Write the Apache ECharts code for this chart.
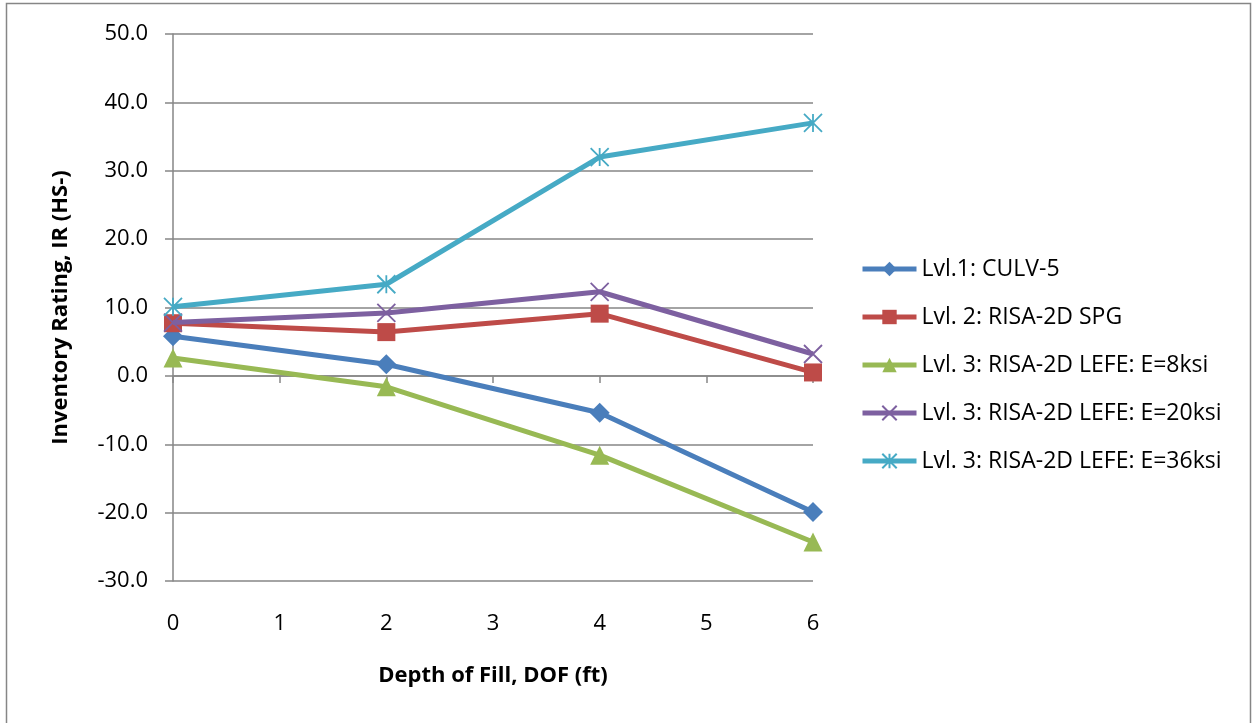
<!DOCTYPE html>
<html>
<head>
<meta charset="utf-8">
<script src="https://cdn.jsdelivr.net/npm/echarts@6/dist/echarts.min.js"></script>
<style>
html,body{margin:0;padding:0;background:#fff;}
#chart{width:1252px;height:723px;}
</style>
</head>
<body>
<div id="chart"></div>
<script>
const depth = [0, 2, 4, 6];
const seriesNames = [
  'Lvl.1: CULV-5',
  'Lvl. 2: RISA-2D SPG',
  'Lvl. 3: RISA-2D LEFE: E=8ksi',
  'Lvl. 3: RISA-2D LEFE: E=20ksi',
  'Lvl. 3: RISA-2D LEFE: E=36ksi'
];
const culv5 = [5.8, 1.7, -5.4, -19.9];
const spg = [7.7, 6.4, 9.1, 0.5];
const lefe8 = [2.6, -1.6, -11.6, -24.3];
const lefe20 = [7.8, 9.2, 12.3, 3.2];
const lefe36 = [10.1, 13.4, 32.0, 37.0];
const yTicks = [-30, -20, -10, 0, 10, 20, 30, 40, 50];
const xTicks = [0, 1, 2, 3, 4, 5, 6];

const colors = ['#4A7EBB', '#BE4B48', '#98B954', '#7D60A0', '#46AAC5'];
const values = [culv5, spg, lefe8, lefe20, lefe36];
const symbols = [
  'diamond',
  'rect',
  'triangle',
  'path://M0,0L10,10M0,10L10,0',
  'path://M0,0L10,10M0,10L10,0M5,0L5,10'
];
const sizes = [20, 18, 19, 18, 18];
const FONT = 'Open Sans';

const chart = echarts.init(document.getElementById('chart'));
const series = values.map((vals, i) => {
  const stroked = i >= 3;
  return {
    name: seriesNames[i],
    type: 'line',
    data: depth.map((d, k) => [d, vals[k]]),
    symbol: symbols[i],
    symbolSize: sizes[i],
    showAllSymbol: true,
    lineStyle: { color: colors[i], width: 5 },
    itemStyle: stroked
      ? { color: 'none', borderColor: colors[i], borderWidth: 1.8 }
      : { color: colors[i], borderWidth: 0 },
    emphasis: { disabled: true },
    z: 2 + i
  };
});

chart.setOption({
  animation: false,
  color: colors,
  textStyle: { fontFamily: FONT },
  grid: { left: 173, right: 439, top: 34, bottom: 142 },
  graphic: [{
    type: 'rect',
    shape: { x: 6.5, y: 3.5, width: 1244, height: 730 },
    style: { fill: 'none', stroke: '#868686', lineWidth: 1.5 },
    silent: true
  }],
  legend: {
    orient: 'vertical',
    left: 855,
    top: 252,
    itemWidth: 54,
    itemHeight: 18,
    itemGap: 24,
    lineStyle: { width: 5 },
    textStyle: { fontFamily: FONT, fontSize: 23, color: '#000', lineHeight: 24 },
    data: seriesNames
  },
  xAxis: [{
    type: 'value',
    min: xTicks[0],
    max: xTicks[xTicks.length - 1],
    interval: 1,
    position: 'bottom',
    axisLine: { show: false, onZero: false },
    axisTick: { show: false },
    splitLine: { show: false },
    axisLabel: { fontFamily: FONT, fontSize: 22, color: '#000', margin: 32 },
    name: 'Depth of Fill, DOF (ft)',
    nameLocation: 'middle',
    nameGap: 84,
    nameTextStyle: { fontFamily: FONT, fontSize: 22, fontWeight: 'bold', color: '#000' }
  }, {
    type: 'value',
    min: xTicks[0],
    max: xTicks[xTicks.length - 1],
    interval: 1,
    position: 'bottom',
    axisLine: { show: true, onZero: true, lineStyle: { color: '#868686', width: 1.5 } },
    axisTick: { show: true, length: 7, lineStyle: { color: '#868686', width: 1.5 } },
    axisLabel: { show: false },
    splitLine: { show: false }
  }],
  yAxis: {
    type: 'value',
    min: yTicks[0],
    max: yTicks[yTicks.length - 1],
    interval: 10,
    axisLine: { show: true, lineStyle: { color: '#868686', width: 1.5 } },
    axisTick: { show: true, length: 8, lineStyle: { color: '#868686', width: 1.5 } },
    splitLine: { show: true, lineStyle: { color: '#868686', width: 1.5 } },
    axisLabel: {
      fontFamily: FONT, fontSize: 22, color: '#000', margin: 25,
      formatter: v => v.toFixed(1)
    },
    name: 'Inventory Rating, IR (HS-)',
    nameLocation: 'middle',
    nameRotate: 90,
    nameGap: 101,
    nameTextStyle: { fontFamily: FONT, fontSize: 22, fontWeight: 'bold', color: '#000' }
  },
  series: series
});
</script>
</body>
</html>
